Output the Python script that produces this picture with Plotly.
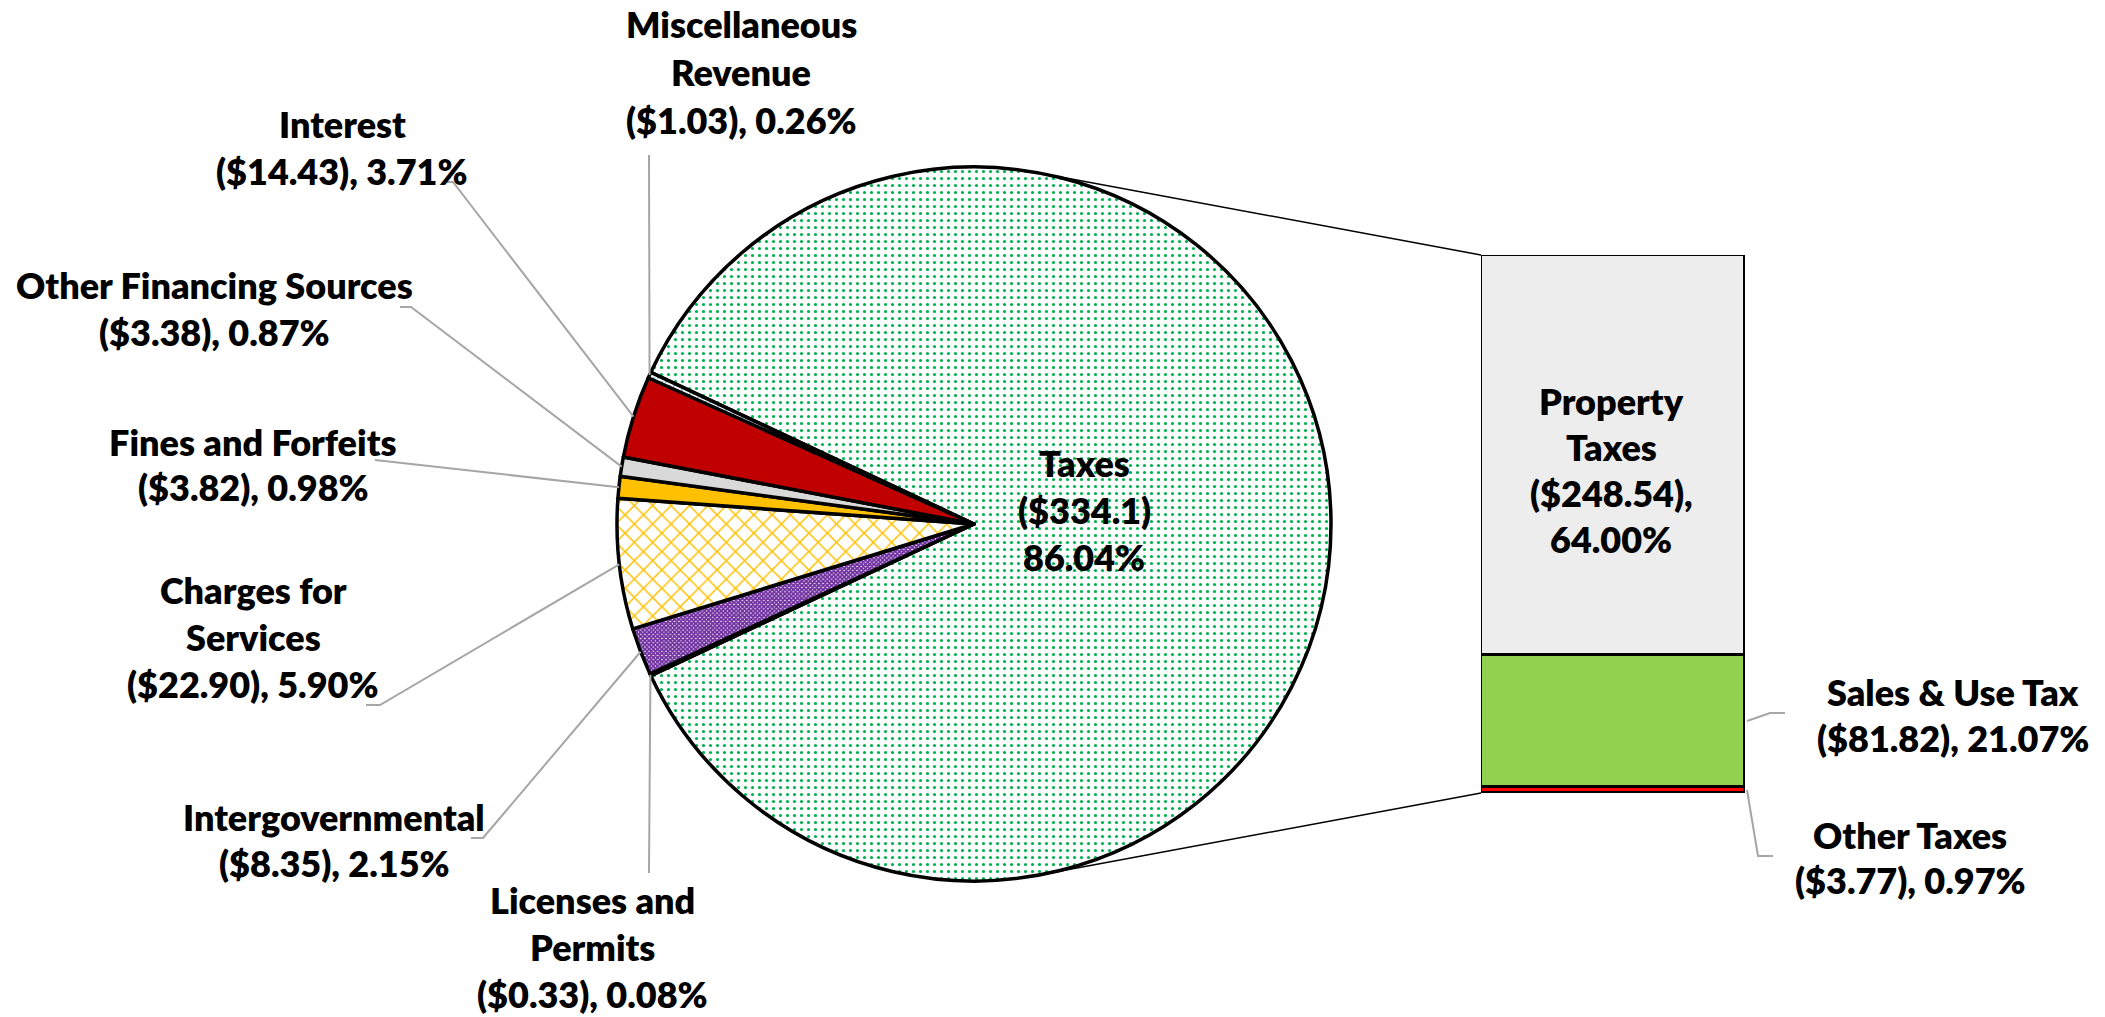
import numpy as np
import plotly.graph_objects as go

W, H = 2105, 1017

# ---------------- data ----------------
pie_labels = ["Taxes", "Licenses and Permits", "Intergovernmental", "Charges for Services",
              "Fines and Forfeits", "Other Financing Sources", "Interest", "Miscellaneous Revenue"]
pie_values = [334.10, 0.33, 8.35, 22.90, 3.82, 3.38, 14.43, 1.03]

bar_labels = ["Other Taxes", "Sales & Use Tax", "Property Taxes"]
bar_values = [3.77, 81.82, 248.54]

label_text = {
    "Taxes": ["Taxes", "($334.1)", "86.04%"],
    "Licenses and Permits": ["Licenses and", "Permits", "($0.33), 0.08%"],
    "Intergovernmental": ["Intergovernmental", "($8.35), 2.15%"],
    "Charges for Services": ["Charges for", "Services", "($22.90), 5.90%"],
    "Fines and Forfeits": ["Fines and Forfeits", "($3.82), 0.98%"],
    "Other Financing Sources": ["Other Financing Sources", "($3.38), 0.87%"],
    "Interest": ["Interest", "($14.43), 3.71%"],
    "Miscellaneous Revenue": ["Miscellaneous", "Revenue", "($1.03), 0.26%"],
    "Property Taxes": ["Property", "Taxes", "($248.54),", "64.00%"],
    "Sales & Use Tax": ["Sales & Use Tax", "($81.82), 21.07%"],
    "Other Taxes": ["Other Taxes", "($3.77), 0.97%"],
}

# ---------------- layout geometry (pixels) ----------------
CX, CY, R = 974, 524, 357            # pie centre / radius
BX0, BX1, BY0, BY1 = 1481, 1745, 255, 793   # bar box

def px(x):
    return x / W

def py(y):
    return 1 - y / H

# label positions: (centre x, first-line centre y, line step)
label_pos = {
    "Taxes": (1084, 463, 47),
    "Licenses and Permits": (593, 900, 47),
    "Intergovernmental": (334, 817, 46),
    "Charges for Services": (253, 590, 47),
    "Fines and Forfeits": (253, 442, 45),
    "Other Financing Sources": (214, 285, 47),
    "Interest": (342, 124, 47),
    "Miscellaneous Revenue": (741, 24, 48),
    "Property Taxes": (1611, 401, 46),
    "Sales & Use Tax": (1953, 692, 46),
    "Other Taxes": (1910, 835, 45),
}

# leader line start (label side) polylines
leader_start = {
    "Licenses and Permits": [(649, 873)],
    "Intergovernmental": [(471, 838), (483, 838)],
    "Charges for Services": [(366, 705), (380, 705)],
    "Fines and Forfeits": [(375, 460)],
    "Other Financing Sources": [(400, 307), (411, 307)],
    "Interest": [(446, 182), (453, 182)],
    "Miscellaneous Revenue": [(649, 155)],
}

# ---------------- styles ----------------
slice_bg = ["white", "#4472c4", "white", "white", "#ffc000", "#d9d9d9", "#c00000", "white"]
slice_fg = ["#00b050", "#4472c4", "#7030a0", "#ffc000", "#ffc000", "#d9d9d9", "#c00000", "#0070c0"]
slice_shape = [".", "", "x", "x", "", "", "", "."]
slice_size = [7, 8, 3, 13, 8, 8, 8, 4]
slice_solid = [0.16, 0.3, 0.85, 0.22, 0.3, 0.3, 0.3, 0.1]

bar_colors = ["#ff0000", "#92d050", "#ededed"]

FONT = dict(family="Lato, 'Open Sans', sans-serif", size=36, color="black", weight=800)

total = sum(pie_values)
others_share = (total - pie_values[0]) / total
rotation = -90 + 180 * others_share   # keep the "other" slices centred on the left

fig = go.Figure()

fig.add_trace(go.Pie(
    labels=pie_labels, values=pie_values, sort=False, direction="clockwise",
    rotation=rotation,
    domain=dict(x=[px(CX - R), px(CX + R)], y=[py(CY + R), py(CY - R)]),
    textinfo="none", showlegend=False, hoverinfo="label+value+percent",
    marker=dict(colors=slice_bg,
                line=dict(color="black", width=3.5),
                pattern=dict(shape=slice_shape, fgcolor=slice_fg, bgcolor=slice_bg,
                             size=slice_size, solidity=slice_solid, fillmode="replace")),
))

for name, val, col in zip(bar_labels, bar_values, bar_colors):
    fig.add_trace(go.Bar(
        x=[0], y=[val], name=name, width=1, showlegend=False,
        marker=dict(color=col, line=dict(color="black", width=3)),
        xaxis="x", yaxis="y", hoverinfo="name+y",
    ))

shapes = []
annotations = []

# connector lines: tangents from bar corners to the pie circle
def tangent_point(P, upper):
    dx, dy = P[0] - CX, P[1] - CY
    d = np.hypot(dx, dy)
    base = np.arctan2(dy, dx)
    a = np.arccos(R / d)
    cands = [(CX + R * np.cos(base + s * a), CY + R * np.sin(base + s * a)) for s in (1, -1)]
    cands.sort(key=lambda p: p[1])
    return cands[0] if upper else cands[1]

for corner, upper in (((BX0, BY0), True), ((BX0, BY1), False)):
    t = tangent_point(corner, upper)
    shapes.append(dict(type="line", xref="paper", yref="paper",
                       x0=px(t[0]), y0=py(t[1]), x1=px(corner[0]), y1=py(corner[1]),
                       line=dict(color="black", width=1.5)))

# leader lines for pie slices (end on slice mid-angle on the rim)
theta_start = 90 - rotation   # math angle of first slice leading edge
cum = 0.0
for name, v in zip(pie_labels, pie_values):
    frac = v / total
    mid = theta_start - (cum + frac / 2) * 360
    cum += frac
    if name in leader_start:
        ex = CX + R * np.cos(np.radians(mid))
        ey = CY - R * np.sin(np.radians(mid))
        pts = leader_start[name] + [(ex, ey)]
        path = "M " + " L ".join(f"{px(x):.5f},{py(y):.5f}" for x, y in pts)
        shapes.append(dict(type="path", xref="paper", yref="paper", path=path,
                           line=dict(color="#a6a6a6", width=2)))

# leader lines for bar segments
bar_total = sum(bar_values)
seg_bottom = 0.0
bar_leaders = {"Sales & Use Tax": [(1770, 713), (1785, 713)],
               "Other Taxes": [(1758, 856), (1773, 856)]}
for name, v in zip(bar_labels, bar_values):
    mid_y = BY1 - (seg_bottom + v / 2) / bar_total * (BY1 - BY0)
    seg_bottom += v
    if name in bar_leaders:
        pts = [(BX1 + 2, mid_y)] + bar_leaders[name]
        path = "M " + " L ".join(f"{px(x):.5f},{py(y):.5f}" for x, y in pts)
        shapes.append(dict(type="path", xref="paper", yref="paper", path=path,
                           line=dict(color="#a6a6a6", width=2)))

for name, lines in label_text.items():
    x, y0, step = label_pos[name]
    for i, line in enumerate(lines):
        annotations.append(dict(
            x=px(x), y=py(y0 + i * step), xref="paper", yref="paper",
            text=line, showarrow=False, xanchor="center", yanchor="middle",
            font=FONT))

fig.update_layout(
    width=W, height=H, margin=dict(l=0, r=0, t=0, b=0),
    paper_bgcolor="white", plot_bgcolor="rgba(0,0,0,0)",
    barmode="stack", bargap=0,
    xaxis=dict(domain=[px(BX0), px(BX1)], range=[-0.5, 0.5], visible=False, fixedrange=True),
    yaxis=dict(domain=[py(BY1), py(BY0)], range=[0, bar_total], visible=False, fixedrange=True),
    shapes=shapes, annotations=annotations,
)

fig.write_html("out.html")
